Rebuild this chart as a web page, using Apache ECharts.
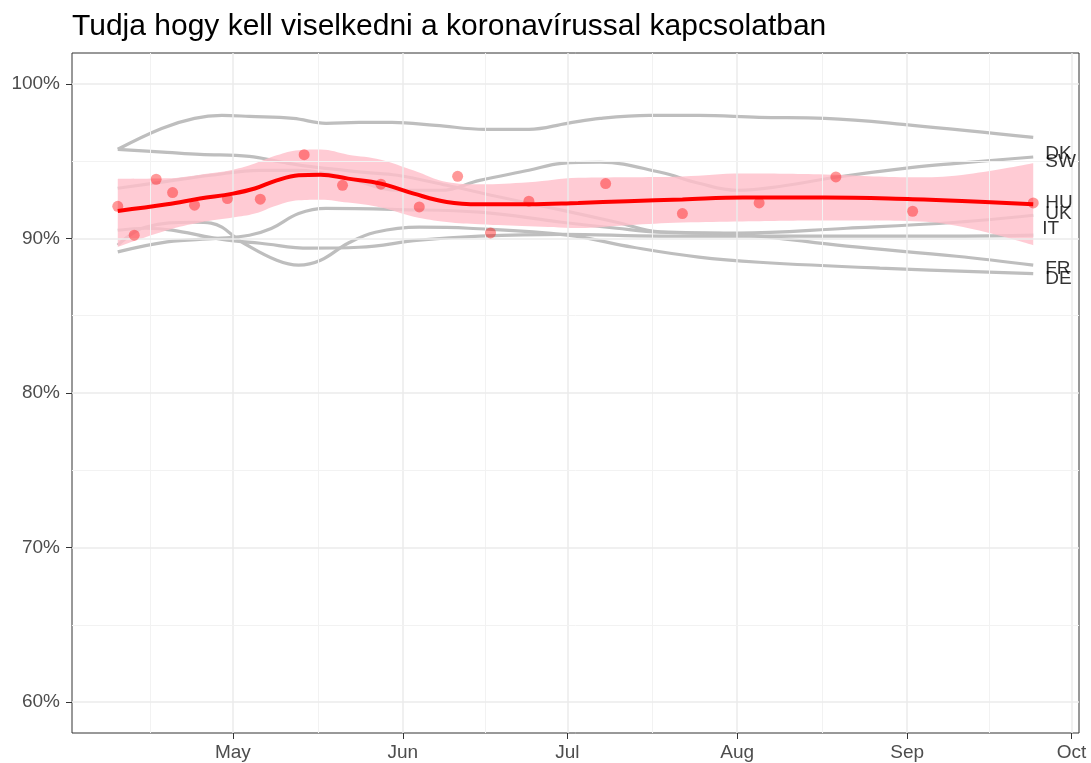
<!DOCTYPE html>
<html><head><meta charset="utf-8">
<script src="https://cdn.jsdelivr.net/npm/echarts@6/dist/echarts.min.js"></script>
<style>html,body{margin:0;padding:0;background:#fff}#c{width:1091px;height:763px}</style>
</head><body><div id="c"></div>
<script>
const chartTitle = 'Tudja hogy kell viselkedni a koronavírussal kapcsolatban';
const monthTicks = ['2020-05-01','2020-06-01','2020-07-01','2020-08-01','2020-09-01','2020-10-01'];
const monthLabels = ['May','Jun','Jul','Aug','Sep','Oct'];
const yTicks = [60,70,80,90,100];

// HU survey points
const huDates = ['2020-04-10','2020-04-13','2020-04-17','2020-04-20','2020-04-24','2020-04-30','2020-05-06','2020-05-14','2020-05-21','2020-05-28','2020-06-04','2020-06-11','2020-06-17','2020-06-24','2020-07-08','2020-07-22','2020-08-05','2020-08-19','2020-09-02','2020-09-24'];
const huValues = [92.08,90.21,93.83,92.97,92.15,92.58,92.54,95.42,93.44,93.51,92.04,94.02,90.36,92.41,93.55,91.61,92.30,93.98,91.76,92.30];

// HU smoothed trend with confidence band
const huSmoothDates = ['2020-04-10','2020-04-19','2020-04-25','2020-05-01','2020-05-05','2020-05-09','2020-05-13','2020-05-17','2020-05-22','2020-05-28','2020-06-03','2020-06-09','2020-06-15','2020-06-24','2020-07-03','2020-07-12','2020-07-22','2020-08-02','2020-08-17','2020-09-02','2020-09-11','2020-09-24'];
const huSmooth = [91.78,92.21,92.58,92.90,93.23,93.76,94.09,94.13,93.87,93.55,92.90,92.36,92.21,92.21,92.30,92.41,92.52,92.65,92.65,92.54,92.43,92.21];
const huUpper  = [93.85,93.89,94.13,94.45,94.85,95.38,95.71,95.75,95.42,95.10,94.39,93.65,93.50,93.63,93.92,93.96,94.01,94.20,94.14,93.96,94.11,94.86];
const huLower  = [89.45,90.53,91.03,91.35,91.61,92.14,92.47,92.51,92.32,92.00,91.41,91.07,90.92,90.79,90.68,90.86,91.03,91.10,91.16,91.12,90.75,89.56];

// Other countries' smoothed trends
const DK = [['2020-04-10',95.77],['2020-04-18',97.12],['2020-04-24',97.77],['2020-04-29',97.96],['2020-05-04',97.90],['2020-05-12',97.77],['2020-05-18',97.45],['2020-05-24',97.51],['2020-05-30',97.51],['2020-06-07',97.32],['2020-06-16',97.06],['2020-06-24',97.06],['2020-07-01',97.45],['2020-07-07',97.77],['2020-07-16',97.96],['2020-07-25',97.96],['2020-08-05',97.84],['2020-08-17',97.77],['2020-09-02',97.32],['2020-09-24',96.54]];
const SW = [['2020-04-10',93.25],['2020-04-18',93.64],['2020-04-27',94.09],['2020-05-06',94.41],['2020-05-13',94.41],['2020-05-22',93.89],['2020-05-31',93.12],['2020-06-08',93.12],['2020-06-15',93.76],['2020-06-24',94.41],['2020-06-30',94.86],['2020-07-07',94.93],['2020-07-18',94.28],['2020-07-25',93.57],['2020-08-01',93.12],['2020-08-09',93.38],['2020-08-19',93.96],['2020-09-02',94.60],['2020-09-10',94.86],['2020-09-24',95.27]];
const UK = [['2020-04-10',95.77],['2020-04-19',95.57],['2020-04-25',95.44],['2020-05-04',95.31],['2020-05-10',94.93],['2020-05-16',94.61],['2020-05-25',94.28],['2020-05-31',94.09],['2020-06-09',93.44],['2020-06-18',92.73],['2020-06-30',91.83],['2020-07-10',91.05],['2020-07-18',90.42],['2020-08-01',90.34],['2020-08-21',90.66],['2020-09-10',91.05],['2020-09-24',91.50]];
const IT = [['2020-04-10',90.53],['2020-04-15',90.66],['2020-04-30',89.89],['2020-05-06',89.69],['2020-05-15',89.37],['2020-05-24',89.43],['2020-06-04',89.89],['2020-06-15',90.15],['2020-06-30',90.27],['2020-07-18',90.15],['2020-08-01',90.15],['2020-08-21',90.15],['2020-09-10',90.15],['2020-09-24',90.21]];
const FR = [['2020-04-10',89.13],['2020-04-19',89.78],['2020-04-28',90.00],['2020-05-04',90.21],['2020-05-08',90.64],['2020-05-13',91.61],['2020-05-18',91.94],['2020-05-31',91.87],['2020-06-15',91.70],['2020-06-30',91.05],['2020-07-10',90.66],['2020-07-18',90.40],['2020-08-01',90.27],['2020-08-21',89.50],['2020-09-10',88.85],['2020-09-24',88.27]];
const DE = [['2020-04-10',89.57],['2020-04-15',90.73],['2020-04-24',91.05],['2020-04-27',90.99],['2020-05-03',89.69],['2020-05-09',88.59],['2020-05-13',88.27],['2020-05-17',88.59],['2020-05-22',89.69],['2020-05-27',90.40],['2020-06-04',90.73],['2020-06-13',90.66],['2020-07-01',90.21],['2020-07-13',89.43],['2020-07-25',88.79],['2020-08-05',88.46],['2020-08-27',88.08],['2020-09-24',87.73]];

// End labels (at last survey value)
const labelNames = ['DK','SW','HU','UK','IT','FR','DE'];
const labelValues = [95.48,94.96,92.28,91.57,90.63,88.01,87.40];
const labelDate = '2020-09-24';

const ts = s => { const p = s.split('-').map(Number); return new Date(p[0], p[1]-1, p[2]).getTime(); };
const first = ts(huDates[0]), last = ts(huDates[huDates.length-1]);
const pad = (last - first) * 0.05;
const xMin = first - pad, xMax = last + pad;
const yMin = 58, yMax = 102;

const monthTs = monthTicks.map(ts);
const prevMonth = (() => { const d = new Date(monthTs[0]); return new Date(d.getFullYear(), d.getMonth()-1, 1).getTime(); })();
const allMonths = [prevMonth, ...monthTs];
const minorX = [];
for (let i = 0; i < allMonths.length - 1; i++) {
  const m = (allMonths[i] + allMonths[i+1]) / 2;
  if (m > xMin && m < xMax) minorX.push(m);
}
const minorY = [];
for (let i = 0; i < yTicks.length - 1; i++) minorY.push((yTicks[i] + yTicks[i+1]) / 2);

const majorStyle = {color:'#EBEBEB', width:1.5, type:'solid'};
const minorStyle = {color:'#F2F2F2', width:1, type:'solid'};
const gridLines = []
  .concat(monthTs.filter(t => t > xMin && t < xMax).map(t => ({xAxis:t, lineStyle:majorStyle})))
  .concat(minorX.map(t => ({xAxis:t, lineStyle:minorStyle})))
  .concat(yTicks.map(v => ({yAxis:v, lineStyle:majorStyle})))
  .concat(minorY.map(v => ({yAxis:v, lineStyle:minorStyle})));

const font = '"Liberation Sans", Arial, Helvetica, sans-serif';
const greyLine = (name, arr) => ({
  name, type:'line', smooth:0.4, symbol:'none', z:3,
  data: arr.map(p => [ts(p[0]), p[1]]),
  lineStyle:{color:'#BEBEBE', width:3.2}
});

const labelData = labelNames.map((n,i) => {
  const item = {name:n, value:[ts(labelDate), labelValues[i]]};
  if (n === 'IT') item.label = {distance:9};
  return item;
});

const chart = echarts.init(document.getElementById('c'), null, {renderer:'canvas'});
chart.setOption({
  animation:false,
  backgroundColor:'#ffffff',
  title:{text:chartTitle, left:72, top:12, padding:0, textStyle:{fontFamily:font, fontSize:30, fontWeight:'normal', color:'#000'}},
  grid:{left:72, right:12, top:53, bottom:30, show:true, borderColor:'#333333', borderWidth:1, backgroundColor:'transparent'},
  xAxis:{
    type:'value', min:xMin, max:xMax, scale:true,
    axisLine:{show:false},
    splitLine:{show:false},
    axisTick:{show:true, customValues:monthTs, length:6, lineStyle:{color:'#333333', width:1}},
    axisLabel:{customValues:monthTs, margin:10, fontFamily:font, fontSize:19, color:'#4D4D4D',
      formatter: v => { const i = monthTs.indexOf(v); return i >= 0 ? monthLabels[i] : ''; }}
  },
  yAxis:{
    type:'value', min:yMin, max:yMax,
    axisLine:{show:false},
    splitLine:{show:false},
    axisTick:{show:true, customValues:yTicks, length:6, lineStyle:{color:'#333333', width:1}},
    axisLabel:{customValues:yTicks, margin:12, fontFamily:font, fontSize:19, color:'#4D4D4D', formatter: v => v + '%'}
  },
  series:[
    {type:'line', data:[], z:1, silent:true,
     markLine:{silent:true, symbol:['none','none'], label:{show:false}, animation:false, data:gridLines}},
    greyLine('DK', DK), greyLine('SW', SW), greyLine('UK', UK),
    greyLine('IT', IT), greyLine('FR', FR), greyLine('DE', DE),
    // band: value in dim 0 so the stack is applied to y
    {name:'band-lo', type:'line', stack:'ci', smooth:0.4, symbol:'none', z:4,
     encode:{x:1, y:0},
     data: huSmoothDates.map((d,i) => [huLower[i], ts(d)]),
     lineStyle:{opacity:0}},
    {name:'band-hi', type:'line', stack:'ci', smooth:0.4, symbol:'none', z:4,
     encode:{x:1, y:0},
     data: huSmoothDates.map((d,i) => [huUpper[i] - huLower[i], ts(d)]),
     lineStyle:{opacity:0}, areaStyle:{color:'#FFC0CB', opacity:0.82}},
    {name:'HU points', type:'scatter', z:5, symbolSize:11,
     data: huDates.map((d,i) => [ts(d), huValues[i]]),
     itemStyle:{color:'rgba(255,0,0,0.5)'}},
    {name:'HU', type:'line', smooth:0.4, symbol:'none', z:6,
     data: huSmoothDates.map((d,i) => [ts(d), huSmooth[i]]),
     lineStyle:{color:'#FF0000', width:4}},
    {name:'labels', type:'scatter', z:7, symbolSize:0, silent:true,
     data: labelData,
     label:{show:true, position:'right', distance:12, formatter: p => p.name,
       fontFamily:font, fontSize:19, color:'#000'}}
  ]
});
</script></body></html>
